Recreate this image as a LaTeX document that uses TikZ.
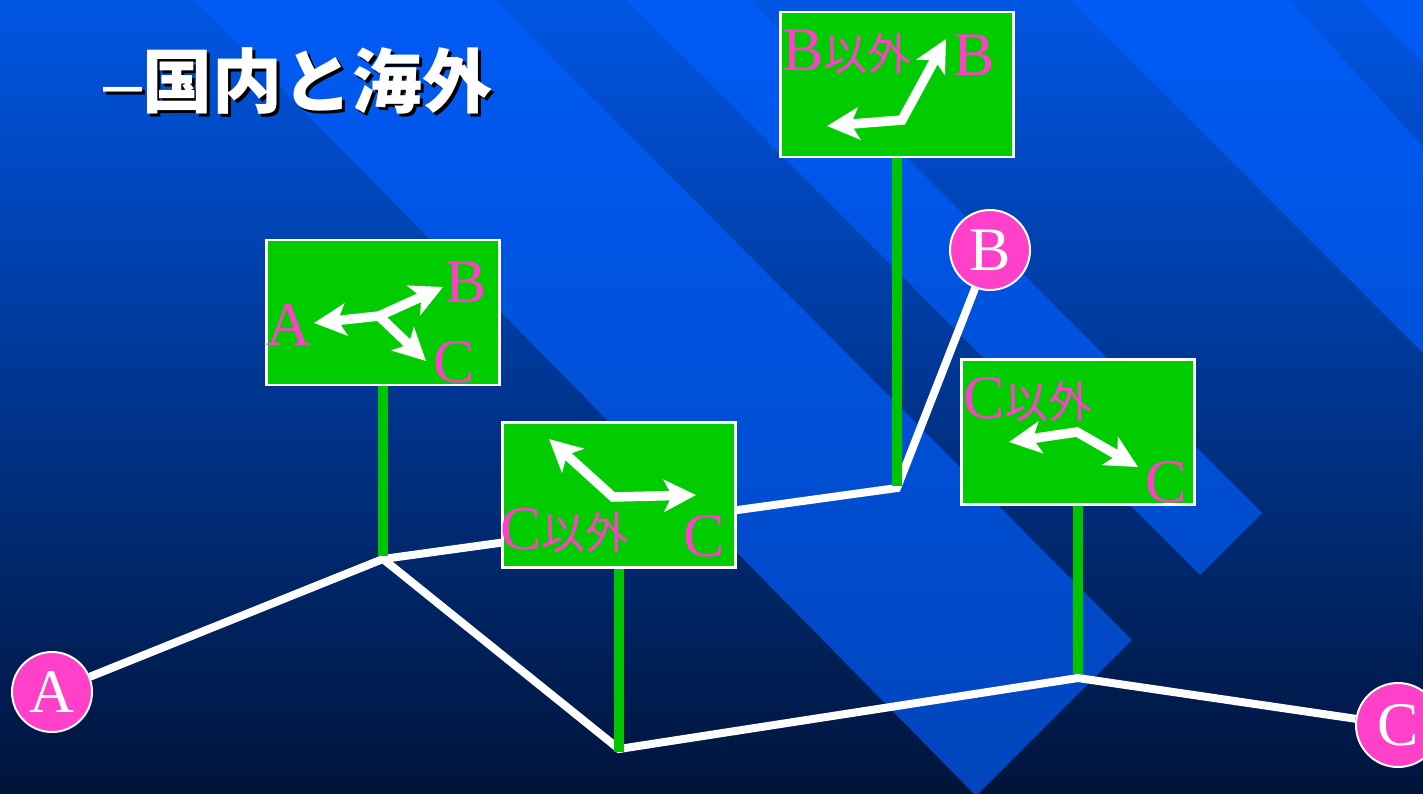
\documentclass[tikz,border=0pt]{standalone}
\usepackage{fontspec}
\setmainfont{Liberation Serif}
\newfontfamily\cjk{Noto Sans CJK JP}
\newfontfamily\lsans{Liberation Sans}
\usetikzlibrary{arrows.meta}
\definecolor{bgtop}{RGB}{0,86,228}
\definecolor{bgmid}{RGB}{0,52,145}
\definecolor{bgbot}{RGB}{0,20,58}
\definecolor{stripec}{RGB}{0,95,255}
\definecolor{signgreen}{RGB}{0,204,0}
\definecolor{postgreen}{RGB}{0,196,0}
\definecolor{pinkc}{RGB}{255,64,200}
\begin{document}
\begin{tikzpicture}[x=1pt,y=-1pt,
  road/.style={draw=white, line width=8pt},
  post/.style={draw=postgreen, line width=10pt},
  sign/.style={rectangle, draw=white, line width=2.5pt, fill=signgreen, minimum width=233pt, minimum height=145pt, inner sep=0pt},
  circ/.style={circle, fill=pinkc, draw=white, line width=2pt, minimum size=80pt, inner sep=0pt, text=white, font=\fontsize{62}{62}\selectfont},
  lbl/.style={text=pinkc, inner sep=0pt, anchor=base west, font=\fontsize{62}{62}\selectfont},
  warrow/.style={draw=white, line width=9.5pt, arrows={-Stealth[length=32pt,width=32pt,inset=8pt]}},
  wboth/.style={draw=white, line width=9.5pt, arrows={Stealth[length=32pt,width=32pt,inset=8pt]-Stealth[length=32pt,width=32pt,inset=8pt]}},
  stripe/.style={fill=stripec, fill opacity=0.66, draw=none},
  ttl/.style={anchor=base west, inner sep=0pt, font=\fontsize{70}{70}\selectfont}
]
\useasboundingbox (0,0) rectangle (1423,793);
\clip (0,0) rectangle (1423,793);
% background
\shade[top color=bgtop, middle color=bgmid, bottom color=bgbot] (0,0) rectangle (1423,793);
\fill[stripe] (195,0) -- (495,0) -- (1132,640) -- (976,796) -- cycle;
\fill[stripe] (627,0) -- (749,0) -- (1262,513) -- (1200,575) -- cycle;
\fill[stripe] (1070,0) -- (1290,0) -- (1423,147) -- (1423,353) -- cycle;
\fill[stripe] (1360,0) -- (1423,0) -- (1423,63) -- cycle;

% title (with drop shadow)
\node[ttl, text=black] (titleshadow) at (106,110) {{\lsans –}{\cjk\bfseries 国内と海外}};
\node[ttl, text=white] (title) at (103,107) {{\lsans –}{\cjk\bfseries 国内と海外}};

% junctions
\coordinate (J1) at (383,559);
\coordinate (J2) at (897,488);
\coordinate (J3) at (619,749);
\coordinate (J4) at (1078,678);

% towns
\node[circ] (A) at (52,692) {A};
\node[circ] (B) at (990,250) {B};
\node[circ, minimum size=84pt] (C) at (1398,725) {C};

% roads
\draw[road] (A) -- (J1) -- (J2) -- (B);
\draw[road] (J1) -- (J3) -- (J4) -- (C);

% signs
\node[sign] (s1) at (383,312.5) {};
\node[sign] (s2) at (897,84.5) {};
\node[sign] (s3) at (619,495) {};
\node[sign] (s4) at (1078,432) {};

% posts
\draw[post] (s1.south) -- ([yshift=3pt]J1);
\draw[post] (s2.south) -- ([yshift=2pt]J2);
\draw[post] (s3.south) -- ([yshift=-3pt]J3);
\draw[post] (s4.south) -- ([yshift=4pt]J4);

% sign 1 contents
\node[lbl] (s1a) at (266,345) {A};
\node[lbl] (s1b) at (445,302) {B};
\node[lbl] (s1c) at (433,382) {C};
\coordinate (k1) at (379,316);
\coordinate (t1a) at (314,323);
\coordinate (t1b) at (443,287);
\coordinate (t1c) at (426,361);
\draw[wboth] (t1a) -- (k1) -- (t1b);
\draw[warrow] (k1) -- (t1c);

% sign 2 contents
\node[lbl] (s2l) at (782,70) {B{\cjk\fontsize{44}{44}\selectfont 以外}};
\node[lbl] (s2r) at (953,75) {B};
\coordinate (k2) at (902,120);
\coordinate (t2a) at (827,126);
\coordinate (t2b) at (946,39);
\draw[wboth] (t2a) -- (k2) -- (t2b);

% sign 3 contents
\node[lbl] (s3l) at (500,549) {C{\cjk\fontsize{44}{44}\selectfont 以外}};
\node[lbl] (s3r) at (683,556) {C};
\coordinate (k3) at (613,497);
\coordinate (t3a) at (549,439);
\coordinate (t3b) at (696,495);
\draw[wboth] (t3a) -- (k3) -- (t3b);

% sign 4 contents
\node[lbl] (s4l) at (963,418) {C{\cjk\fontsize{44}{44}\selectfont 以外}};
\node[lbl] (s4r) at (1145,502) {C};
\coordinate (k4) at (1077,432);
\coordinate (t4a) at (1009,442);
\coordinate (t4b) at (1138,467);
\draw[wboth] (t4a) -- (k4) -- (t4b);
\end{tikzpicture}
\end{document}
